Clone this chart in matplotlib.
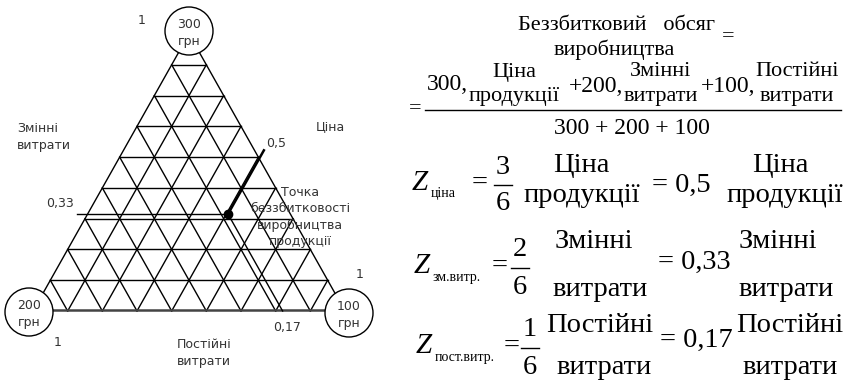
import numpy as np
import matplotlib
matplotlib.use("Agg")
import matplotlib.pyplot as plt
from matplotlib.patches import Circle

# Triangle data
n_div = 9                       # grid divisions per side
vertex_values = ["300", "200", "100"]   # top, bottom-left, bottom-right (грн)
share_labels = ["0,5", "0,33", "0,17"]
point_share = [0.35, 0.20, 0.45]        # point as drawn (top, left, right)

# Formula data
totals = [300, 200, 100]
z_names = ["ціна", "зм.витр.", "пост.витр."]
z_num = ["3", "2", "1"]
z_values = ["0,5", "0,33", "0,17"]
z_top = ["Ціна", "Змінні", "Постійні"]
z_bottom = ["продукції", "витрати", "витрати"]

# pixel frame
A = np.array([189.0, 34.0])
B = np.array([33.0, 311.0])
C = np.array([345.0, 311.0])

def tern(a, b, c):
    return a * A + b * B + c * C

fig = plt.figure(figsize=(8.48, 3.8), dpi=100)
ax = fig.add_axes([0, 0, 1, 1])
ax.set_xlim(0, 848)
ax.set_ylim(380, 0)
ax.axis('off')

sans = ['DejaVu Sans']
serif = ['Liberation Serif', 'DejaVu Serif']
tc = '#333333'

# grid
for k in range(1, n_div):
    t = k / n_div
    for p, q in [(tern(t, 1 - t, 0), tern(t, 0, 1 - t)),
                 (tern(1 - t, t, 0), tern(0, t, 1 - t)),
                 (tern(1 - t, 0, t), tern(0, 1 - t, t))]:
        ax.plot([p[0], q[0]], [p[1], q[1]], color='black', lw=1.0, zorder=1)

# outline
ax.plot([B[0], A[0], C[0]], [B[1], A[1], C[1]], color='black', lw=1.0, zorder=1)
ax.plot([B[0], C[0]], [B[1] - 1, C[1] - 1], color='#444444', lw=1.8, zorder=1)

# break-even point and guide lines
a, b, c = point_share
P = tern(a, b, c)
ax.plot([77, P[0]], [P[1], P[1]], color='black', lw=1.0, zorder=2)
R = tern(1 - c + 0.03, -0.03, c)
ax.plot([P[0], R[0]], [P[1], R[1]], color='black', lw=1.8, zorder=2)
D = tern(0, b, 1 - b)
ax.plot([P[0], D[0]], [P[1], D[1]], color='black', lw=1.0, zorder=2)
ax.plot(P[0], P[1], 'o', color='black', ms=6, zorder=3)

# vertex circles
centers = [(189, 31), (29, 312), (349, 313)]
for (cx, cy), v in zip(centers, vertex_values):
    ax.add_patch(Circle((cx, cy), 24, facecolor='white', edgecolor='black', lw=1.0, zorder=4))
    ax.text(cx, cy + 2, v + "\nгрн", ha='center', va='center', fontsize=9,
            family=sans, color=tc, linespacing=1.35, zorder=5)

# labels on the triangle
ax.text(142, 20, "1", ha='center', va='center', fontsize=9, family=sans, color=tc)
ax.text(360, 275, "1", ha='center', va='center', fontsize=9, family=sans, color=tc)
ax.text(58, 343, "1", ha='center', va='center', fontsize=9, family=sans, color=tc)
ax.text(17, 137, "Змінні\nвитрати", ha='left', va='center', fontsize=9, family=sans,
        color=tc, linespacing=1.4)
ax.text(330, 127, "Ціна", ha='center', va='center', fontsize=9, family=sans, color=tc)
ax.text(276, 143, share_labels[0], ha='center', va='center', fontsize=9, family=sans, color=tc)
ax.text(60, 203, share_labels[1], ha='center', va='center', fontsize=9, family=sans, color=tc)
ax.text(287, 327, share_labels[2], ha='center', va='center', fontsize=9, family=sans, color=tc)
ax.text(204, 353, "Постійні\nвитрати", ha='center', va='center', fontsize=9, family=sans,
        color=tc, linespacing=1.4)
ax.text(300, 217, "Точка\nбеззбитковості\nвиробництва\nпродукції", ha='center',
        va='center', fontsize=9, family=sans, color=tc, linespacing=1.3, zorder=5)

# top formula
fs = 16
ax.text(616, 25, "Беззбитковий   обсяг", ha='center', va='center', fontsize=fs, family=serif)
ax.text(728, 37, "=", ha='center', va='center', fontsize=fs, family=serif)
ax.text(614, 50, "виробництва", ha='center', va='center', fontsize=fs, family=serif)
ax.text(415, 109, "=", ha='center', va='center', fontsize=fs, family=serif)
ax.text(447, 85, f"{totals[0]},", ha='center', va='center', fontsize=fs + 1, family=serif)
ax.text(596, 86, f"+{totals[1]},", ha='center', va='center', fontsize=fs + 1, family=serif)
ax.text(728, 86, f"+{totals[2]},", ha='center', va='center', fontsize=fs + 1, family=serif)
for x, top, bot in [(514, z_top[0], z_bottom[0]), (661, z_top[1], z_bottom[1]),
                    (797, z_top[2], z_bottom[2])]:
    ax.text(x, 72, top, ha='center', va='center', fontsize=fs, family=serif)
    ax.text(x, 96, bot, ha='center', va='center', fontsize=fs, family=serif)
ax.plot([425, 841], [110, 110], color='black', lw=1.0)
ax.text(632, 128, f"{totals[0]} + {totals[1]} + {totals[2]}", ha='center', va='center',
        fontsize=fs + 1, family=serif)

# Z rows
wf = 20.5
z_y = [183, 266, 346]
top_y = [165, 242, 325]
bot_y = [195, 290, 367]
val_y = [185, 262, 340]
eq_x = [480, 500, 512]
frac_x = [503, 520, 530]
word_x = [581, 594, 600]
word_bx = [582, 600, 604]
val_x = [652, 658, 660]
word2_x = [780, 778, 790]
word2_bx = [785, 786, 790]
for i, y in enumerate(z_y):
    zx = 412 + 2 * i
    ax.text(zx, y, "Z", ha='left', va='center', fontsize=21, family=serif, style='italic')
    ax.text(zx + 19, y + 11, z_names[i], ha='left', va='center', fontsize=10, family=serif)
    ax.text(eq_x[i], y, "=", ha='center', va='center', fontsize=wf, family=serif)
    ax.text(frac_x[i], y - 16, z_num[i], ha='center', va='center', fontsize=wf, family=serif)
    ax.plot([frac_x[i] - 9, frac_x[i] + 9], [y + 2, y + 2], color='black', lw=1.0)
    ax.text(frac_x[i], y + 21, "6", ha='center', va='center', fontsize=wf, family=serif)
    ax.text(word_x[i], top_y[i], z_top[i], ha='center', va='center', fontsize=wf, family=serif)
    ax.text(word_bx[i], bot_y[i], z_bottom[i], ha='center', va='center', fontsize=wf, family=serif)
    ax.text(val_x[i], val_y[i], "= " + z_values[i], ha='left', va='center', fontsize=wf,
            family=serif)
    ax.text(word2_x[i], top_y[i], z_top[i], ha='center', va='center', fontsize=wf, family=serif)
    ax.text(word2_bx[i], bot_y[i], z_bottom[i], ha='center', va='center', fontsize=wf,
            family=serif)

fig.savefig("out.png", dpi=100)
